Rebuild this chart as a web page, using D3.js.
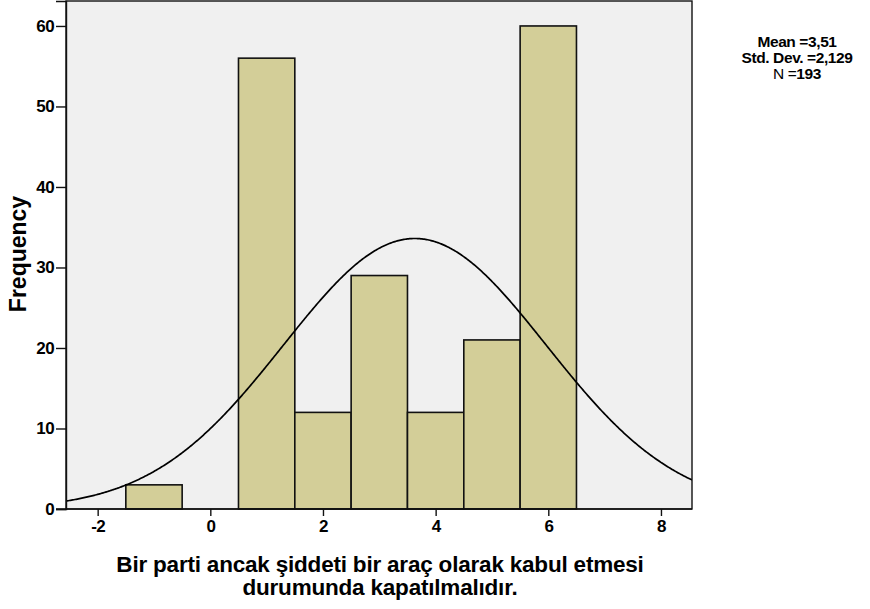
<!DOCTYPE html>
<html><head><meta charset="utf-8">
<script src="https://cdn.jsdelivr.net/npm/d3@7"></script>
<style>
body{margin:0;background:#fff;}
text{font-family:Arial,"Liberation Sans",sans-serif;}
</style></head>
<body><svg id="c" width="870" height="609"></svg>
<script>
const binCenters = [-1, 1, 2, 3, 4, 5, 6];
const frequencies = [3, 56, 12, 29, 12, 21, 60];
const binWidth = 1;
const xTicks = [-2, 0, 2, 4, 6, 8];
const yTicks = [0, 10, 20, 30, 40, 50, 60];
const statsLabels = ["Mean =", "Std. Dev. =", "N ="];
const statsValues = ["3,51", "2,129", "193"];
// normal curve as drawn
const curveMean = 3.63, curveSd = 2.33, curvePeak = 33.6;
const xTitle = ["Bir parti ancak şiddeti bir araç olarak kabul etmesi", "durumunda kapatılmalıdır."];
const yTitle = "Frequency";

const svg = d3.select("#c");
const L = 66, R = 692, T = 1, B = 509;
const x = d3.scaleLinear().domain([-2.562, 8.551]).range([L, R]);
const y = d3.scaleLinear().domain([0, 63.1]).range([B, T]);

svg.append("rect").attr("x", L).attr("y", T).attr("width", R - L).attr("height", B - T)
  .attr("fill", "#f0f0f0");

svg.append("clipPath").attr("id", "pc").append("rect")
  .attr("x", L).attr("y", T).attr("width", R - L).attr("height", B - T);

svg.append("g").selectAll("rect").data(binCenters).join("rect")
  .attr("x", (d) => x(d - binWidth / 2))
  .attr("width", (d) => x(d + binWidth / 2) - x(d - binWidth / 2))
  .attr("y", (d, i) => y(frequencies[i]))
  .attr("height", (d, i) => y(0) - y(frequencies[i]))
  .attr("fill", "#d3ce98").attr("stroke", "#111").attr("stroke-width", 1.6);

const xs = d3.range(-2.562, 8.56, 0.02);
const line = d3.line().x((d) => x(d))
  .y((d) => y(curvePeak * Math.exp(-0.5 * Math.pow((d - curveMean) / curveSd, 2))));
svg.append("path").datum(xs).attr("d", line).attr("fill", "none")
  .attr("stroke", "#000").attr("stroke-width", 1.7).attr("clip-path", "url(#pc)");

svg.append("rect").attr("x", L).attr("y", T).attr("width", R - L).attr("height", B - T)
  .attr("fill", "none").attr("stroke", "#111").attr("stroke-width", 1.4);

const xa = svg.append("g").attr("transform", `translate(0,${B})`)
  .call(d3.axisBottom(x).tickValues(xTicks).tickSize(7).tickPadding(4).tickFormat((d) => String(d)));
const ya = svg.append("g").attr("transform", `translate(${L},0)`)
  .call(d3.axisLeft(y).tickValues(yTicks).tickSize(10).tickPadding(2).tickFormat((d) => String(d)));
[xa, ya].forEach((a) => {
  a.select(".domain").attr("stroke", "#111").attr("stroke-width", 1.4);
  a.selectAll(".tick line").attr("stroke", "#111").attr("stroke-width", 1.4);
  a.selectAll("text").attr("font-size", 17).attr("font-weight", "bold").attr("fill", "#000")
    .attr("letter-spacing", -0.6)
    .style("font-family", "Arial, 'Liberation Sans', sans-serif");
});
xa.select(".domain").attr("d", `M${L - 10},0H${R}`);

svg.append("text").attr("transform", "translate(26,254) rotate(-90)")
  .attr("text-anchor", "middle").attr("font-size", 23).attr("font-weight", "bold").text(yTitle);

svg.selectAll(".xt").data(xTitle).join("text").attr("class", "xt")
  .attr("x", 380).attr("y", (d, i) => 572 + i * 23)
  .attr("text-anchor", "middle").attr("font-size", 22.5).attr("font-weight", "bold")
  .attr("letter-spacing", -0.2).text((d) => d);

const st = svg.selectAll(".st").data(statsLabels).join("text").attr("class", "st")
  .attr("x", 797).attr("y", (d, i) => 47 + i * 16)
  .attr("text-anchor", "middle").attr("font-size", 15.5).attr("letter-spacing", -0.4);
st.append("tspan").attr("font-weight", (d, i) => i === 2 ? "normal" : "bold").text((d) => d);
st.append("tspan").attr("font-weight", "bold").text((d, i) => statsValues[i]);
</script></body></html>
